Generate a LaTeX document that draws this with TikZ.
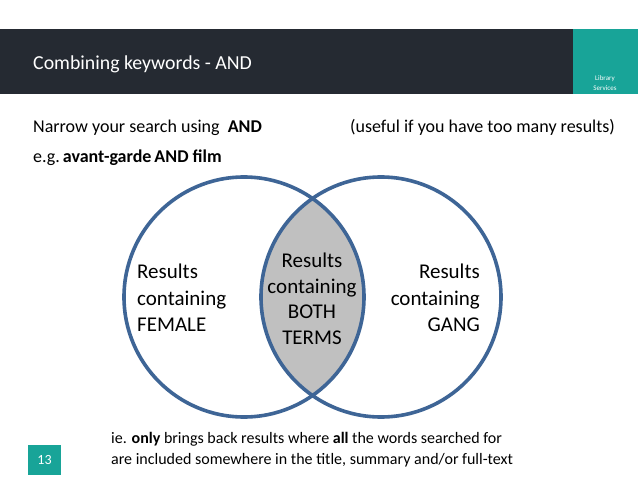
\documentclass[tikz,border=0pt]{standalone}
\usepackage{fontspec}
\setmainfont{Carlito}
\definecolor{hdr}{RGB}{37,42,50}
\definecolor{teal}{RGB}{24,164,152}
\definecolor{ring}{RGB}{62,101,150}
\definecolor{lens}{RGB}{192,192,192}
\begin{document}
\begin{tikzpicture}[x=1pt,y=-1pt,
  txt/.style={inner sep=0pt,font=\fontsize{18}{21}\selectfont},
  venn/.style={inner sep=0pt,font=\fontsize{21}{26.5}\selectfont,align=#1},
  ringline/.style={draw=ring,line width=3.6pt}]
\useasboundingbox (0,0) rectangle (638,479);
\fill[white] (0,0) rectangle (638,479);
% header
\fill[hdr] (0,29) rectangle (638,94);
\fill[teal] (573,29) rectangle (638,94);
\node[txt,anchor=base west,text=white,font=\fontsize{19.8}{22}\selectfont] (title) at (33,69) {Combining keywords - AND};
\node[inner sep=0pt,text=white,align=center,font=\fontsize{7}{10.5}\selectfont] (lib) at (605,83) {Library\\Services};
% intro lines
\node[txt,anchor=base west] (narrow) at (33,132) {Narrow your search using\ \ \textbf{AND}};
\node[txt,anchor=base west] (useful) at (350,132) {(useful if you have too many results)};
\node[txt,anchor=base west] (eg) at (33,162) {e.g.\,\textbf{avant-garde\,AND film}};
% venn
\coordinate (c1) at (244,297);
\coordinate (c2) at (381,297);
\begin{scope}
\clip (c1) circle (120);
\fill[lens] (c2) circle (120);
\end{scope}
\draw[ringline] (c1) circle (120);
\draw[ringline] (c2) circle (120);
\node[venn=left,anchor=west] (female) at (137,298) {Results\\containing\\FEMALE};
\node[venn=center,font=\fontsize{21}{25.5}\selectfont] (both) at (312,299) {Results\\containing\\BOTH\\TERMS};
\node[venn=right,anchor=east] (gang) at (480,298) {Results\\containing\\GANG};
% footer
\node[txt,anchor=base west,font=\fontsize{16}{19}\selectfont] (note1) at (111,443) {ie. \textbf{only} brings back results where \textbf{all} the words searched for};
\node[txt,anchor=base west,font=\fontsize{16}{19}\selectfont] (note2) at (111,464) {are included somewhere in the title, summary and/or full-text};
\fill[teal] (28,445) rectangle (61,475);
\node[inner sep=0pt,text=white,font=\fontsize{14}{16}\selectfont] (num) at (44.5,460) {13};
\end{tikzpicture}
\end{document}
